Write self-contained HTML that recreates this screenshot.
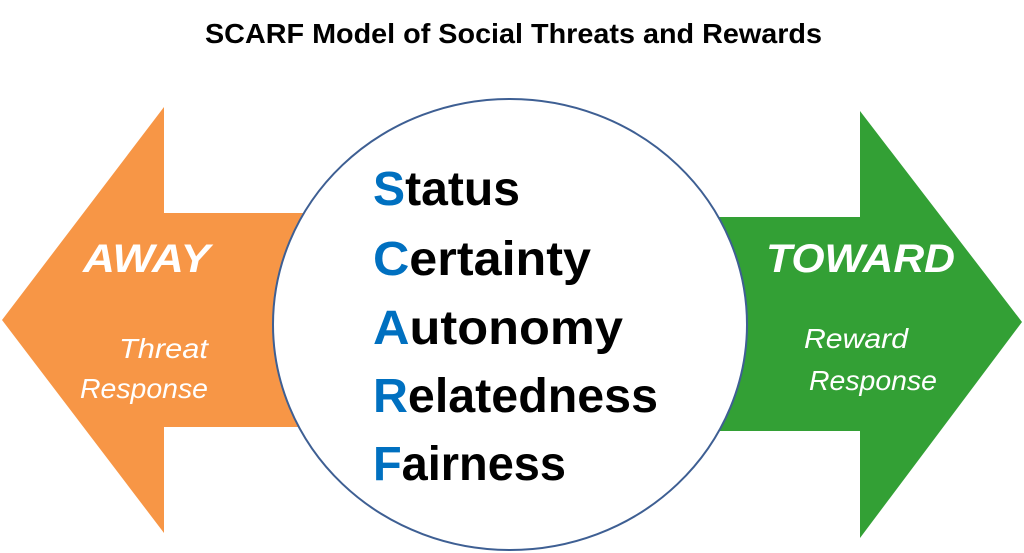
<!DOCTYPE html>
<html><head><meta charset="utf-8"><style>html,body{margin:0;padding:0;background:#fff}svg{display:block}</style></head>
<body>
<svg width="1024" height="553" viewBox="0 0 1024 553" xmlns="http://www.w3.org/2000/svg" font-family="Liberation Sans, sans-serif">
<rect width="1024" height="553" fill="#fff"/>
<text x="205" y="43" font-size="28" font-weight="bold" textLength="617" lengthAdjust="spacingAndGlyphs">SCARF Model of Social Threats and Rewards</text>
<polygon points="2,320 164,107 164,213 330,213 330,427 164,427 164,533" fill="#f79646"/>
<polygon points="1022,322 860,111 860,217 690,217 690,431 860,431 860,538" fill="#33a035"/>
<ellipse cx="510" cy="324.5" rx="237" ry="225.5" fill="#fff" stroke="#3e5f93" stroke-width="2"/>
<g font-size="48" font-weight="bold">
<text x="373" y="205" textLength="147" lengthAdjust="spacingAndGlyphs"><tspan fill="#0070c0">S</tspan>tatus</text>
<text x="373" y="275" textLength="218" lengthAdjust="spacingAndGlyphs"><tspan fill="#0070c0">C</tspan>ertainty</text>
<text x="373" y="344" textLength="250" lengthAdjust="spacingAndGlyphs"><tspan fill="#0070c0">A</tspan>utonomy</text>
<text x="373" y="412" textLength="285" lengthAdjust="spacingAndGlyphs"><tspan fill="#0070c0">R</tspan>elatedness</text>
<text x="373" y="480" textLength="193" lengthAdjust="spacingAndGlyphs"><tspan fill="#0070c0">F</tspan>airness</text>
</g>
<g fill="#fff" font-style="italic">
<text x="83" y="272" font-size="40" font-weight="bold" textLength="127" lengthAdjust="spacingAndGlyphs">AWAY</text>
<text x="766" y="272" font-size="40" font-weight="bold" textLength="189" lengthAdjust="spacingAndGlyphs">TOWARD</text>
<text x="119" y="358" font-size="28" textLength="89" lengthAdjust="spacingAndGlyphs">Threat</text>
<text x="80" y="398" font-size="28" textLength="128" lengthAdjust="spacingAndGlyphs">Response</text>
<text x="804" y="348" font-size="28" textLength="104" lengthAdjust="spacingAndGlyphs">Reward</text>
<text x="809" y="390" font-size="28" textLength="128" lengthAdjust="spacingAndGlyphs">Response</text>
</g>
</svg>
</body></html>
